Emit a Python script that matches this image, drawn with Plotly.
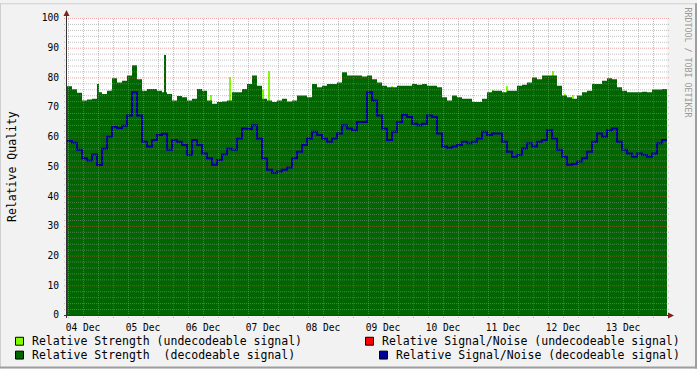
import plotly.graph_objects as go
import pandas as pd

# ---------------- data ----------------
start = pd.Timestamp("2023-12-04 05:36")
end = pd.Timestamp("2023-12-14 05:36")
step_hours = 2

# Relative Strength (decodeable signal), one value per 2 h step
strength = [
    77.0, 76.0, 74.8, 72.2, 72.6, 72.8, 75.0, 74.4, 75.5, 79.7,
    78.3, 78.9, 80.6, 84.1, 79.4, 75.5, 76.1, 76.1, 75.5, 75.0,
    74.4, 72.2, 73.7, 73.3, 72.2, 72.8, 76.1, 75.5, 72.2, 71.1,
    71.7, 71.9, 72.2, 75.0, 75.0, 76.1, 77.8, 80.6, 77.2, 72.8,
    72.2, 71.7, 72.2, 72.8, 71.9, 72.2, 73.9, 73.9, 73.3, 77.8,
    76.7, 77.2, 77.8, 77.8, 78.3, 81.7, 80.6, 80.6, 80.6, 80.3,
    80.6, 79.4, 78.3, 77.2, 76.7, 76.7, 77.2, 77.2, 77.2, 77.8,
    77.5, 77.8, 77.2, 77.2, 76.7, 73.3, 72.2, 73.9, 73.3, 72.8,
    72.8, 71.7, 71.7, 72.8, 75.0, 75.5, 75.5, 75.0, 75.5, 75.5,
    77.2, 77.5, 78.3, 80.0, 79.4, 80.6, 80.6, 80.6, 77.2, 73.9,
    73.3, 72.8, 73.9, 75.0, 75.5, 77.8, 77.8, 78.9, 79.7, 79.4,
    76.7, 75.5, 75.0, 75.0, 75.0, 75.2, 75.0, 75.9, 75.9, 76.1,
]

# Relative Signal/Noise (decodeable signal)
snr = [
    58.6, 58.0, 55.6, 52.8, 52.0, 54.0, 50.5, 56.0, 60.0, 63.3,
    63.0, 63.7, 67.2, 75.0, 67.2, 58.3, 56.7, 58.9, 60.6, 61.0,
    55.6, 58.9, 58.3, 57.2, 53.9, 58.9, 57.2, 54.4, 52.8, 50.6,
    52.2, 54.0, 56.0, 55.6, 59.4, 62.8, 62.6, 63.9, 59.4, 52.8,
    48.9, 47.8, 48.3, 48.9, 49.7, 52.8, 55.0, 57.2, 59.4, 61.7,
    60.6, 59.4, 58.3, 59.4, 61.1, 63.9, 62.8, 62.2, 65.0, 65.0,
    75.0, 72.2, 67.2, 62.8, 58.9, 61.7, 65.0, 67.4, 66.7, 64.4,
    63.9, 64.4, 67.2, 66.7, 61.1, 56.7, 56.3, 56.7, 57.2, 58.3,
    57.8, 58.3, 59.4, 61.7, 60.6, 61.1, 61.1, 58.3, 55.0, 53.3,
    53.9, 56.1, 57.8, 56.7, 58.3, 58.9, 62.2, 59.4, 55.6, 53.3,
    50.6, 50.8, 51.7, 52.8, 55.0, 58.3, 61.1, 60.0, 62.2, 62.8,
    58.3, 55.6, 54.4, 53.3, 54.4, 53.9, 53.3, 54.4, 57.8, 58.9,
]

# Relative Strength (undecodeable signal) - short spikes
undec_times = [
    "2023-12-04 23:30", "2023-12-06 15:06", "2023-12-06 22:42",
    "2023-12-07 11:54", "2023-12-07 14:18", "2023-12-09 15:30",
    "2023-12-11 07:54", "2023-12-11 13:30", "2023-12-12 07:54",
    "2023-12-12 12:42", "2023-12-12 15:54",
]
undec_values = [76.0, 74.0, 80.0, 75.8, 82.0, 77.2, 75.8, 77.0, 82.3, 74.5, 74.0]

# short decodeable strength spikes
dec_spike_times = ["2023-12-04 17:54", "2023-12-05 20:42"]
dec_spike_values = [77.8, 87.7]

day_labels = ["04 Dec", "05 Dec", "06 Dec", "07 Dec", "08 Dec",
              "09 Dec", "10 Dec", "11 Dec", "12 Dec", "13 Dec"]
label_times = pd.date_range("2023-12-04 12:00", periods=len(day_labels), freq="24h")
y_ticks = list(range(0, 101, 10))

legend_items = [
    ("Relative Strength (undecodeable signal)", "#80FF00"),
    ("Relative Strength  (decodeable signal)", "#006600"),
    ("Relative Signal/Noise (undecodeable signal)", "#FF0000"),
    ("Relative Signal/Noise (decodeable signal)", "#000099"),
]

# ---------------- geometry ----------------
W, H = 697, 369
L, R, T, B = 67, 667, 15, 315
PW, PH = R - L, B - T


def px(x):
    return (x - L) / PW


def py(y):
    return (B - y) / PH


times = [start + pd.Timedelta(hours=step_hours * i) for i in range(len(strength))] + [end]
strength_y = strength + [strength[-1]]
snr_y = snr + [snr[-1]]

MONO = "DejaVu Sans Mono"
BAR_W = 24 * 60 * 1000  # one pixel column
HALF_PX_T = pd.Timedelta(minutes=12)  # half a pixel column in time
HALF_PX_V = 0.5 * 100 / PH            # half a pixel row in value units

fig = go.Figure()
fig.add_trace(go.Bar(x=undec_times, y=undec_values, width=BAR_W,
                     marker=dict(color="#80FF00", line=dict(width=0))))
fig.add_trace(go.Bar(x=dec_spike_times, y=dec_spike_values, width=BAR_W,
                     marker=dict(color="#006600", line=dict(width=0))))
fig.add_trace(go.Scatter(x=times, y=strength_y, mode="lines", line_shape="hv",
                         line=dict(width=0, color="#006600"),
                         fill="tozeroy", fillcolor="#006600"))
fig.add_trace(go.Scatter(x=times, y=snr_y, mode="lines", line_shape="hv",
                         line=dict(width=2, color="#000099")))

shapes = []
MINOR = "rgba(143,143,143,0.55)"
MAJOR = "rgba(222,79,79,0.5)"
for v in range(2, 101, 2):
    shapes.append(dict(type="line", xref="paper", yref="y", x0=px(64), x1=px(670),
                       y0=v - HALF_PX_V, y1=v - HALF_PX_V, layer="above",
                       line=dict(color=MAJOR if v % 10 == 0 else MINOR, width=1, dash="1px,1px")))
for t in pd.date_range("2023-12-04 06:00", "2023-12-14 00:00", freq="6h"):
    shapes.append(dict(type="line", xref="x", yref="paper", x0=t + HALF_PX_T, x1=t + HALF_PX_T,
                       y0=py(318), y1=1, layer="above",
                       line=dict(color=MAJOR if t.hour == 0 else MINOR, width=1, dash="1px,1px")))
# axes
shapes.append(dict(type="line", xref="paper", yref="paper", x0=px(64), x1=px(670),
                   y0=py(315.5), y1=py(315.5),
                   layer="above", line=dict(color="#333333", width=1)))
shapes.append(dict(type="line", xref="paper", yref="paper", x0=px(66.5), x1=px(66.5),
                   y0=py(318), y1=py(11),
                   layer="above", line=dict(color="#333333", width=1)))
# arrows
shapes.append(dict(type="path", xref="paper", yref="paper", layer="above",
                   path=f"M {px(63.5)},{py(13)} L {px(69.5)},{py(13)} L {px(66.5)},{py(7)} Z",
                   fillcolor="#801F1F", line=dict(width=0)))
shapes.append(dict(type="path", xref="paper", yref="paper", layer="above",
                   path=f"M {px(668)},{py(312.5)} L {px(668)},{py(318.5)} L {px(674)},{py(315.5)} Z",
                   fillcolor="#801F1F", line=dict(width=0)))
# outer frame shading
shapes.append(dict(type="rect", xref="paper", yref="paper", x0=px(0), x1=px(W), y0=py(0), y1=py(1),
                   fillcolor="#CFCFCF", line=dict(width=0), layer="above"))
shapes.append(dict(type="rect", xref="paper", yref="paper", x0=px(0), x1=px(1), y0=py(0), y1=py(H),
                   fillcolor="#CFCFCF", line=dict(width=0), layer="above"))
shapes.append(dict(type="rect", xref="paper", yref="paper", x0=px(0), x1=px(W), y0=py(H - 2), y1=py(H),
                   fillcolor="#9E9E9E", line=dict(width=0), layer="above"))
shapes.append(dict(type="rect", xref="paper", yref="paper", x0=px(W - 2), x1=px(W), y0=py(0), y1=py(H),
                   fillcolor="#9E9E9E", line=dict(width=0), layer="above"))

# legend swatches + texts
legend_pos = [(15, 337, 30, 341), (15, 351, 30, 355), (365, 337, 380, 341), (379, 351, 394, 355)]
annotations = []
for (label, color), (sx, sy, tx, ty) in zip(legend_items, legend_pos):
    shapes.append(dict(type="rect", xref="paper", yref="paper",
                       x0=px(sx + 0.5), x1=px(sx + 8.5), y0=py(sy + 0.5), y1=py(sy + 8.5),
                       fillcolor=color, line=dict(color="#000000", width=1)))
    annotations.append(dict(text=label, xref="paper", yref="paper", x=px(tx), y=py(ty),
                            xanchor="left", yanchor="middle", showarrow=False,
                            font=dict(family=MONO, size=11.5, color="#000000")))

annotations.append(dict(text="Relative Quality", xref="paper", yref="paper", x=px(11.5), y=0.5,
                        textangle=-90, showarrow=False, xanchor="center", yanchor="middle",
                        font=dict(family=MONO, size=11.5, color="#000000")))
annotations.append(dict(text="RRDTOOL / TOBI OETIKER", xref="paper", yref="paper", x=px(688), y=py(60),
                        textangle=90, showarrow=False, xanchor="center", yanchor="middle",
                        font=dict(family=MONO, size=8.3, color="#999999")))

fig.update_layout(
    width=W, height=H,
    margin=dict(l=L, r=W - R, t=T, b=H - B, pad=0),
    paper_bgcolor="#F2F2F2", plot_bgcolor="#FFFFFF",
    showlegend=False, barmode="overlay", bargap=0,
    shapes=shapes, annotations=annotations,
    xaxis=dict(type="date", range=[start, end], tickvals=list(label_times), ticktext=day_labels,
               showgrid=False, zeroline=False, showline=False,
               ticks="outside", ticklen=3, tickcolor="rgba(0,0,0,0)",
               tickfont=dict(family=MONO, size=9.6, color="#000000"), fixedrange=True),
    yaxis=dict(range=[0, 100], tickvals=y_ticks, showgrid=False, zeroline=False, showline=False,
               ticks="outside", ticklen=5, tickcolor="rgba(0,0,0,0)",
               tickfont=dict(family=MONO, size=9.6, color="#000000"), fixedrange=True),
)

fig.write_html("out.html")
